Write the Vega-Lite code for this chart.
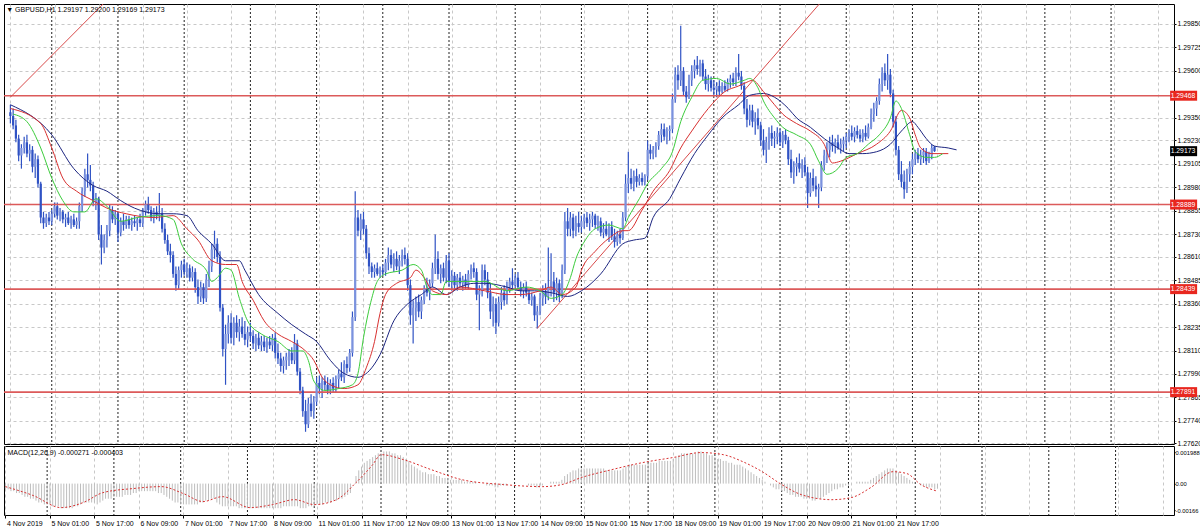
{
"$schema":"https://vega.github.io/schema/vega-lite/v6.json",
"background":"white",
"padding":{"left":2,"top":3,"right":0,"bottom":0},
"spacing":2,
"bounds":"flush",
"config":{"view":{"stroke":"#000","strokeWidth":1},"font":"Liberation Sans","axis":{"labelOverlap":false,"labelSeparation":0,"labelBound":false}},
"datasets":{
"bars":[
{"i":0,"o":1.2938,"h":1.2942,"l":1.2932,"c":1.2936,"m":-0.0003},
{"i":1,"o":1.2936,"h":1.2940,"l":1.2929,"c":1.2931,"m":-0.0003},
{"i":2,"o":1.2931,"h":1.2934,"l":1.2922,"c":1.2924,"m":-0.0004},
{"i":3,"o":1.2924,"h":1.2926,"l":1.2912,"c":1.2915,"m":-0.0004},
{"i":4,"o":1.2915,"h":1.2921,"l":1.2908,"c":1.2919,"m":-0.0005},
{"i":5,"o":1.2919,"h":1.2925,"l":1.2916,"c":1.2922,"m":-0.0005},
{"i":6,"o":1.2922,"h":1.2926,"l":1.2914,"c":1.2916,"m":-0.0006},
{"i":7,"o":1.2916,"h":1.2921,"l":1.2912,"c":1.2918,"m":-0.0007},
{"i":8,"o":1.2918,"h":1.2920,"l":1.2906,"c":1.2909,"m":-0.0007},
{"i":9,"o":1.2909,"h":1.2916,"l":1.2903,"c":1.2913,"m":-0.0008},
{"i":10,"o":1.2913,"h":1.2915,"l":1.2898,"c":1.2900,"m":-0.0008},
{"i":11,"o":1.2900,"h":1.2901,"l":1.2879,"c":1.2882,"m":-0.0009},
{"i":12,"o":1.2882,"h":1.2885,"l":1.2876,"c":1.2879,"m":-0.0010},
{"i":13,"o":1.2879,"h":1.2884,"l":1.2877,"c":1.2882,"m":-0.0010},
{"i":14,"o":1.2882,"h":1.2885,"l":1.2878,"c":1.2880,"m":-0.0011},
{"i":15,"o":1.2880,"h":1.2886,"l":1.2878,"c":1.2884,"m":-0.0011},
{"i":16,"o":1.2884,"h":1.2890,"l":1.2882,"c":1.2888,"m":-0.0011},
{"i":17,"o":1.2888,"h":1.2890,"l":1.2881,"c":1.2883,"m":-0.0012},
{"i":18,"o":1.2883,"h":1.2887,"l":1.2880,"c":1.2885,"m":-0.0012},
{"i":19,"o":1.2885,"h":1.2886,"l":1.2879,"c":1.2881,"m":-0.0012},
{"i":20,"o":1.2881,"h":1.2884,"l":1.2877,"c":1.2882,"m":-0.0013},
{"i":21,"o":1.2882,"h":1.2885,"l":1.2878,"c":1.2879,"m":-0.0013},
{"i":22,"o":1.2879,"h":1.2883,"l":1.2876,"c":1.2881,"m":-0.0013},
{"i":23,"o":1.2881,"h":1.2884,"l":1.2877,"c":1.2878,"m":-0.0013},
{"i":24,"o":1.2878,"h":1.2882,"l":1.2876,"c":1.2880,"m":-0.0013},
{"i":25,"o":1.2880,"h":1.2890,"l":1.2876,"c":1.2888,"m":-0.0012},
{"i":26,"o":1.2888,"h":1.2898,"l":1.2885,"c":1.2896,"m":-0.0012},
{"i":27,"o":1.2896,"h":1.2908,"l":1.2893,"c":1.2905,"m":-0.0011},
{"i":28,"o":1.2905,"h":1.2916,"l":1.2898,"c":1.2902,"m":-0.0010},
{"i":29,"o":1.2902,"h":1.2910,"l":1.2896,"c":1.2899,"m":-0.0010},
{"i":30,"o":1.2899,"h":1.2901,"l":1.2888,"c":1.2890,"m":-0.0010},
{"i":31,"o":1.2890,"h":1.2895,"l":1.2886,"c":1.2892,"m":-0.0010},
{"i":32,"o":1.2892,"h":1.2893,"l":1.2870,"c":1.2873,"m":-0.0010},
{"i":33,"o":1.2873,"h":1.2878,"l":1.2857,"c":1.2866,"m":-0.0011},
{"i":34,"o":1.2866,"h":1.2873,"l":1.2863,"c":1.2870,"m":-0.0010},
{"i":35,"o":1.2870,"h":1.2878,"l":1.2866,"c":1.2875,"m":-0.0009},
{"i":36,"o":1.2875,"h":1.2889,"l":1.2872,"c":1.2886,"m":-0.0008},
{"i":37,"o":1.2886,"h":1.2888,"l":1.2879,"c":1.2881,"m":-0.0008},
{"i":38,"o":1.2881,"h":1.2886,"l":1.2878,"c":1.2884,"m":-0.0008},
{"i":39,"o":1.2884,"h":1.2885,"l":1.2869,"c":1.2874,"m":-0.0007},
{"i":40,"o":1.2874,"h":1.2882,"l":1.2872,"c":1.2880,"m":-0.0007},
{"i":41,"o":1.2880,"h":1.2884,"l":1.2875,"c":1.2878,"m":-0.0007},
{"i":42,"o":1.2878,"h":1.2883,"l":1.2876,"c":1.2881,"m":-0.0007},
{"i":43,"o":1.2881,"h":1.2883,"l":1.2876,"c":1.2878,"m":-0.0006},
{"i":44,"o":1.2878,"h":1.2882,"l":1.2875,"c":1.2880,"m":-0.0006},
{"i":45,"o":1.2880,"h":1.2883,"l":1.2877,"c":1.2879,"m":-0.0006},
{"i":46,"o":1.2879,"h":1.2882,"l":1.2875,"c":1.2881,"m":-0.0005},
{"i":47,"o":1.2881,"h":1.2884,"l":1.2877,"c":1.2879,"m":-0.0005},
{"i":48,"o":1.2879,"h":1.2887,"l":1.2877,"c":1.2885,"m":-0.0004},
{"i":49,"o":1.2885,"h":1.2891,"l":1.2883,"c":1.2889,"m":-0.0004},
{"i":50,"o":1.2889,"h":1.2893,"l":1.2884,"c":1.2886,"m":-0.0004},
{"i":51,"o":1.2886,"h":1.2888,"l":1.2880,"c":1.2882,"m":-0.0004},
{"i":52,"o":1.2882,"h":1.2887,"l":1.2879,"c":1.2885,"m":-0.0004},
{"i":53,"o":1.2885,"h":1.2888,"l":1.2881,"c":1.2883,"m":-0.0004},
{"i":54,"o":1.2883,"h":1.2895,"l":1.2880,"c":1.2884,"m":-0.0004},
{"i":55,"o":1.2884,"h":1.2887,"l":1.2874,"c":1.2876,"m":-0.0005},
{"i":56,"o":1.2876,"h":1.2879,"l":1.2868,"c":1.2870,"m":-0.0005},
{"i":57,"o":1.2870,"h":1.2873,"l":1.2862,"c":1.2864,"m":-0.0006},
{"i":58,"o":1.2864,"h":1.2868,"l":1.2858,"c":1.2862,"m":-0.0007},
{"i":59,"o":1.2862,"h":1.2864,"l":1.2850,"c":1.2852,"m":-0.0008},
{"i":60,"o":1.2852,"h":1.2856,"l":1.2843,"c":1.2846,"m":-0.0009},
{"i":61,"o":1.2846,"h":1.2856,"l":1.2844,"c":1.2854,"m":-0.0010},
{"i":62,"o":1.2854,"h":1.2859,"l":1.2850,"c":1.2857,"m":-0.0010},
{"i":63,"o":1.2857,"h":1.2860,"l":1.2851,"c":1.2853,"m":-0.0011},
{"i":64,"o":1.2853,"h":1.2858,"l":1.2850,"c":1.2855,"m":-0.0011},
{"i":65,"o":1.2855,"h":1.2857,"l":1.2848,"c":1.2850,"m":-0.0011},
{"i":66,"o":1.2850,"h":1.2856,"l":1.2848,"c":1.2853,"m":-0.0011},
{"i":67,"o":1.2853,"h":1.2855,"l":1.2842,"c":1.2845,"m":-0.0011},
{"i":68,"o":1.2845,"h":1.2849,"l":1.2836,"c":1.2840,"m":-0.0011},
{"i":69,"o":1.2840,"h":1.2848,"l":1.2837,"c":1.2845,"m":-0.0011},
{"i":70,"o":1.2845,"h":1.2847,"l":1.2836,"c":1.2839,"m":-0.0010},
{"i":71,"o":1.2839,"h":1.2852,"l":1.2837,"c":1.2849,"m":-0.0010},
{"i":72,"o":1.2849,"h":1.2859,"l":1.2845,"c":1.2856,"m":-0.0009},
{"i":73,"o":1.2856,"h":1.2868,"l":1.2853,"c":1.2865,"m":-0.0009},
{"i":74,"o":1.2865,"h":1.2875,"l":1.2860,"c":1.2868,"m":-0.0008},
{"i":75,"o":1.2868,"h":1.2871,"l":1.2858,"c":1.2861,"m":-0.0008},
{"i":76,"o":1.2861,"h":1.2864,"l":1.2832,"c":1.2834,"m":-0.0010},
{"i":77,"o":1.2834,"h":1.2836,"l":1.2808,"c":1.2812,"m":-0.0011},
{"i":78,"o":1.2812,"h":1.2825,"l":1.2793,"c":1.2820,"m":-0.0012},
{"i":79,"o":1.2820,"h":1.2830,"l":1.2815,"c":1.2826,"m":-0.0012},
{"i":80,"o":1.2826,"h":1.2831,"l":1.2815,"c":1.2818,"m":-0.0012},
{"i":81,"o":1.2818,"h":1.2829,"l":1.2814,"c":1.2826,"m":-0.0012},
{"i":82,"o":1.2826,"h":1.2830,"l":1.2818,"c":1.2821,"m":-0.0012},
{"i":83,"o":1.2821,"h":1.2828,"l":1.2816,"c":1.2824,"m":-0.0012},
{"i":84,"o":1.2824,"h":1.2829,"l":1.2818,"c":1.2820,"m":-0.0013},
{"i":85,"o":1.2820,"h":1.2827,"l":1.2814,"c":1.2817,"m":-0.0013},
{"i":86,"o":1.2817,"h":1.2824,"l":1.2813,"c":1.2821,"m":-0.0013},
{"i":87,"o":1.2821,"h":1.2826,"l":1.2816,"c":1.2819,"m":-0.0013},
{"i":88,"o":1.2819,"h":1.2822,"l":1.2812,"c":1.2815,"m":-0.0013},
{"i":89,"o":1.2815,"h":1.2820,"l":1.2811,"c":1.2818,"m":-0.0013},
{"i":90,"o":1.2818,"h":1.2821,"l":1.2812,"c":1.2814,"m":-0.0013},
{"i":91,"o":1.2814,"h":1.2819,"l":1.2811,"c":1.2816,"m":-0.0013},
{"i":92,"o":1.2816,"h":1.2819,"l":1.2811,"c":1.2813,"m":-0.0013},
{"i":93,"o":1.2813,"h":1.2818,"l":1.2810,"c":1.2816,"m":-0.0013},
{"i":94,"o":1.2816,"h":1.2819,"l":1.2812,"c":1.2814,"m":-0.0013},
{"i":95,"o":1.2814,"h":1.2820,"l":1.2811,"c":1.2818,"m":-0.0013},
{"i":96,"o":1.2818,"h":1.2821,"l":1.2807,"c":1.2810,"m":-0.0013},
{"i":97,"o":1.2810,"h":1.2815,"l":1.2804,"c":1.2807,"m":-0.0013},
{"i":98,"o":1.2807,"h":1.2810,"l":1.2800,"c":1.2803,"m":-0.0013},
{"i":99,"o":1.2803,"h":1.2808,"l":1.2799,"c":1.2806,"m":-0.0013},
{"i":100,"o":1.2806,"h":1.2810,"l":1.2801,"c":1.2808,"m":-0.0012},
{"i":101,"o":1.2808,"h":1.2812,"l":1.2803,"c":1.2810,"m":-0.0012},
{"i":102,"o":1.2810,"h":1.2813,"l":1.2804,"c":1.2806,"m":-0.0012},
{"i":103,"o":1.2806,"h":1.2820,"l":1.2804,"c":1.2815,"m":-0.0012},
{"i":104,"o":1.2815,"h":1.2817,"l":1.2798,"c":1.2800,"m":-0.0012},
{"i":105,"o":1.2800,"h":1.2802,"l":1.2788,"c":1.2790,"m":-0.0012},
{"i":106,"o":1.2790,"h":1.2792,"l":1.2776,"c":1.2779,"m":-0.0013},
{"i":107,"o":1.2779,"h":1.2785,"l":1.2768,"c":1.2772,"m":-0.0013},
{"i":108,"o":1.2772,"h":1.2786,"l":1.2770,"c":1.2783,"m":-0.0013},
{"i":109,"o":1.2783,"h":1.2788,"l":1.2776,"c":1.2779,"m":-0.0012},
{"i":110,"o":1.2779,"h":1.2787,"l":1.2775,"c":1.2784,"m":-0.0012},
{"i":111,"o":1.2784,"h":1.2797,"l":1.2782,"c":1.2794,"m":-0.0012},
{"i":112,"o":1.2794,"h":1.2798,"l":1.2788,"c":1.2791,"m":-0.0011},
{"i":113,"o":1.2791,"h":1.2797,"l":1.2786,"c":1.2795,"m":-0.0011},
{"i":114,"o":1.2795,"h":1.2798,"l":1.2790,"c":1.2793,"m":-0.0011},
{"i":115,"o":1.2793,"h":1.2797,"l":1.2788,"c":1.2790,"m":-0.0010},
{"i":116,"o":1.2790,"h":1.2796,"l":1.2788,"c":1.2794,"m":-0.0010},
{"i":117,"o":1.2794,"h":1.2797,"l":1.2789,"c":1.2791,"m":-0.0010},
{"i":118,"o":1.2791,"h":1.2798,"l":1.2789,"c":1.2796,"m":-0.0009},
{"i":119,"o":1.2796,"h":1.2801,"l":1.2791,"c":1.2799,"m":-0.0009},
{"i":120,"o":1.2799,"h":1.2805,"l":1.2795,"c":1.2797,"m":-0.0008},
{"i":121,"o":1.2797,"h":1.2806,"l":1.2794,"c":1.2804,"m":-0.0008},
{"i":122,"o":1.2804,"h":1.2808,"l":1.2799,"c":1.2802,"m":-0.0007},
{"i":123,"o":1.2802,"h":1.2812,"l":1.2800,"c":1.2810,"m":-0.0006},
{"i":124,"o":1.2810,"h":1.2832,"l":1.2808,"c":1.2829,"m":-0.0005},
{"i":125,"o":1.2829,"h":1.2896,"l":1.2827,"c":1.2882,"m":0.0000},
{"i":126,"o":1.2882,"h":1.2886,"l":1.2872,"c":1.2875,"m":0.0004},
{"i":127,"o":1.2875,"h":1.2884,"l":1.2870,"c":1.2881,"m":0.0007},
{"i":128,"o":1.2881,"h":1.2885,"l":1.2873,"c":1.2876,"m":0.0009},
{"i":129,"o":1.2876,"h":1.2878,"l":1.2860,"c":1.2863,"m":0.0011},
{"i":130,"o":1.2863,"h":1.2866,"l":1.2852,"c":1.2856,"m":0.0012},
{"i":131,"o":1.2856,"h":1.2858,"l":1.2850,"c":1.2853,"m":0.0013},
{"i":132,"o":1.2853,"h":1.2857,"l":1.2850,"c":1.2855,"m":0.0014},
{"i":133,"o":1.2855,"h":1.2858,"l":1.2851,"c":1.2852,"m":0.0015},
{"i":134,"o":1.2852,"h":1.2856,"l":1.2850,"c":1.2854,"m":0.0016},
{"i":135,"o":1.2854,"h":1.2857,"l":1.2851,"c":1.2853,"m":0.0016},
{"i":136,"o":1.2853,"h":1.2860,"l":1.2851,"c":1.2858,"m":0.0017},
{"i":137,"o":1.2858,"h":1.2866,"l":1.2854,"c":1.2862,"m":0.0017},
{"i":138,"o":1.2862,"h":1.2865,"l":1.2855,"c":1.2857,"m":0.0017},
{"i":139,"o":1.2857,"h":1.2863,"l":1.2853,"c":1.2860,"m":0.0016},
{"i":140,"o":1.2860,"h":1.2864,"l":1.2854,"c":1.2856,"m":0.0016},
{"i":141,"o":1.2856,"h":1.2862,"l":1.2852,"c":1.2859,"m":0.0015},
{"i":142,"o":1.2859,"h":1.2865,"l":1.2856,"c":1.2862,"m":0.0015},
{"i":143,"o":1.2862,"h":1.2866,"l":1.2857,"c":1.2860,"m":0.0014},
{"i":144,"o":1.2860,"h":1.2863,"l":1.2843,"c":1.2846,"m":0.0013},
{"i":145,"o":1.2846,"h":1.2849,"l":1.2825,"c":1.2830,"m":0.0012},
{"i":146,"o":1.2830,"h":1.2838,"l":1.2815,"c":1.2834,"m":0.0010},
{"i":147,"o":1.2834,"h":1.2840,"l":1.2827,"c":1.2837,"m":0.0009},
{"i":148,"o":1.2837,"h":1.2841,"l":1.2829,"c":1.2832,"m":0.0008},
{"i":149,"o":1.2832,"h":1.2840,"l":1.2828,"c":1.2838,"m":0.0007},
{"i":150,"o":1.2838,"h":1.2846,"l":1.2836,"c":1.2844,"m":0.0006},
{"i":151,"o":1.2844,"h":1.2850,"l":1.2840,"c":1.2842,"m":0.0006},
{"i":152,"o":1.2842,"h":1.2849,"l":1.2838,"c":1.2847,"m":0.0005},
{"i":153,"o":1.2847,"h":1.2858,"l":1.2845,"c":1.2855,"m":0.0005},
{"i":154,"o":1.2855,"h":1.2873,"l":1.2852,"c":1.2860,"m":0.0005},
{"i":155,"o":1.2860,"h":1.2864,"l":1.2849,"c":1.2852,"m":0.0004},
{"i":156,"o":1.2852,"h":1.2857,"l":1.2847,"c":1.2855,"m":0.0004},
{"i":157,"o":1.2855,"h":1.2858,"l":1.2848,"c":1.2850,"m":0.0003},
{"i":158,"o":1.2850,"h":1.2862,"l":1.2847,"c":1.2859,"m":0.0003},
{"i":159,"o":1.2859,"h":1.2863,"l":1.2845,"c":1.2848,"m":0.0003},
{"i":160,"o":1.2848,"h":1.2854,"l":1.2843,"c":1.2851,"m":0.0002},
{"i":161,"o":1.2851,"h":1.2853,"l":1.2844,"c":1.2846,"m":0.0002},
{"i":162,"o":1.2846,"h":1.2852,"l":1.2843,"c":1.2850,"m":0.0002},
{"i":163,"o":1.2850,"h":1.2853,"l":1.2845,"c":1.2847,"m":0.0002},
{"i":164,"o":1.2847,"h":1.2851,"l":1.2843,"c":1.2849,"m":0.0002},
{"i":165,"o":1.2849,"h":1.2852,"l":1.2844,"c":1.2846,"m":0.0001},
{"i":166,"o":1.2846,"h":1.2854,"l":1.2844,"c":1.2852,"m":0.0001},
{"i":167,"o":1.2852,"h":1.2857,"l":1.2849,"c":1.2855,"m":0.0001},
{"i":168,"o":1.2855,"h":1.2858,"l":1.2850,"c":1.2853,"m":0.0001},
{"i":169,"o":1.2853,"h":1.2855,"l":1.2838,"c":1.2841,"m":0.0001},
{"i":170,"o":1.2841,"h":1.2846,"l":1.2822,"c":1.2843,"m":0.0000},
{"i":171,"o":1.2843,"h":1.2857,"l":1.2840,"c":1.2854,"m":0.0000},
{"i":172,"o":1.2854,"h":1.2857,"l":1.2846,"c":1.2849,"m":0.0000},
{"i":173,"o":1.2849,"h":1.2853,"l":1.2839,"c":1.2842,"m":-0.0001},
{"i":174,"o":1.2842,"h":1.2847,"l":1.2828,"c":1.2832,"m":-0.0001},
{"i":175,"o":1.2832,"h":1.2840,"l":1.2824,"c":1.2836,"m":-0.0001},
{"i":176,"o":1.2836,"h":1.2839,"l":1.2820,"c":1.2826,"m":-0.0002},
{"i":177,"o":1.2826,"h":1.2840,"l":1.2824,"c":1.2837,"m":-0.0002},
{"i":178,"o":1.2837,"h":1.2845,"l":1.2833,"c":1.2842,"m":-0.0001},
{"i":179,"o":1.2842,"h":1.2846,"l":1.2835,"c":1.2838,"m":-0.0001},
{"i":180,"o":1.2838,"h":1.2848,"l":1.2836,"c":1.2845,"m":-0.0001},
{"i":181,"o":1.2845,"h":1.2850,"l":1.2842,"c":1.2848,"m":0.0000},
{"i":182,"o":1.2848,"h":1.2855,"l":1.2844,"c":1.2846,"m":0.0000},
{"i":183,"o":1.2846,"h":1.2852,"l":1.2843,"c":1.2850,"m":0.0000},
{"i":184,"o":1.2850,"h":1.2853,"l":1.2843,"c":1.2845,"m":0.0000},
{"i":185,"o":1.2845,"h":1.2848,"l":1.2840,"c":1.2843,"m":0.0000},
{"i":186,"o":1.2843,"h":1.2847,"l":1.2839,"c":1.2845,"m":0.0000},
{"i":187,"o":1.2845,"h":1.2848,"l":1.2840,"c":1.2842,"m":0.0000},
{"i":188,"o":1.2842,"h":1.2844,"l":1.2836,"c":1.2838,"m":-0.0001},
{"i":189,"o":1.2838,"h":1.2842,"l":1.2835,"c":1.2840,"m":-0.0001},
{"i":190,"o":1.2840,"h":1.2841,"l":1.2827,"c":1.2830,"m":-0.0001},
{"i":191,"o":1.2830,"h":1.2835,"l":1.2823,"c":1.2832,"m":-0.0002},
{"i":192,"o":1.2832,"h":1.2842,"l":1.2830,"c":1.2839,"m":-0.0002},
{"i":193,"o":1.2839,"h":1.2846,"l":1.2835,"c":1.2843,"m":-0.0001},
{"i":194,"o":1.2843,"h":1.2847,"l":1.2836,"c":1.2840,"m":0.0000},
{"i":195,"o":1.2840,"h":1.2866,"l":1.2838,"c":1.2845,"m":0.0000},
{"i":196,"o":1.2845,"h":1.2863,"l":1.2840,"c":1.2848,"m":0.0001},
{"i":197,"o":1.2848,"h":1.2853,"l":1.2837,"c":1.2842,"m":0.0001},
{"i":198,"o":1.2842,"h":1.2850,"l":1.2838,"c":1.2847,"m":0.0001},
{"i":199,"o":1.2847,"h":1.2849,"l":1.2837,"c":1.2840,"m":0.0001},
{"i":200,"o":1.2840,"h":1.2857,"l":1.2839,"c":1.2854,"m":0.0002},
{"i":201,"o":1.2854,"h":1.2885,"l":1.2852,"c":1.2880,"m":0.0004},
{"i":202,"o":1.2880,"h":1.2887,"l":1.2872,"c":1.2876,"m":0.0005},
{"i":203,"o":1.2876,"h":1.2885,"l":1.2872,"c":1.2882,"m":0.0006},
{"i":204,"o":1.2882,"h":1.2884,"l":1.2871,"c":1.2875,"m":0.0007},
{"i":205,"o":1.2875,"h":1.2883,"l":1.2872,"c":1.2879,"m":0.0007},
{"i":206,"o":1.2879,"h":1.2885,"l":1.2874,"c":1.2877,"m":0.0008},
{"i":207,"o":1.2877,"h":1.2883,"l":1.2874,"c":1.2880,"m":0.0008},
{"i":208,"o":1.2880,"h":1.2884,"l":1.2876,"c":1.2882,"m":0.0008},
{"i":209,"o":1.2882,"h":1.2885,"l":1.2877,"c":1.2879,"m":0.0008},
{"i":210,"o":1.2879,"h":1.2884,"l":1.2875,"c":1.2881,"m":0.0008},
{"i":211,"o":1.2881,"h":1.2885,"l":1.2877,"c":1.2883,"m":0.0008},
{"i":212,"o":1.2883,"h":1.2884,"l":1.2876,"c":1.2878,"m":0.0008},
{"i":213,"o":1.2878,"h":1.2883,"l":1.2875,"c":1.2880,"m":0.0008},
{"i":214,"o":1.2880,"h":1.2882,"l":1.2872,"c":1.2874,"m":0.0008},
{"i":215,"o":1.2874,"h":1.2879,"l":1.2871,"c":1.2876,"m":0.0008},
{"i":216,"o":1.2876,"h":1.2880,"l":1.2872,"c":1.2873,"m":0.0007},
{"i":217,"o":1.2873,"h":1.2879,"l":1.2869,"c":1.2877,"m":0.0007},
{"i":218,"o":1.2877,"h":1.2880,"l":1.2870,"c":1.2872,"m":0.0007},
{"i":219,"o":1.2872,"h":1.2876,"l":1.2866,"c":1.2869,"m":0.0007},
{"i":220,"o":1.2869,"h":1.2875,"l":1.2867,"c":1.2873,"m":0.0007},
{"i":221,"o":1.2873,"h":1.2876,"l":1.2868,"c":1.2871,"m":0.0007},
{"i":222,"o":1.2871,"h":1.2885,"l":1.2870,"c":1.2882,"m":0.0008},
{"i":223,"o":1.2882,"h":1.2905,"l":1.2880,"c":1.2900,"m":0.0009},
{"i":224,"o":1.2900,"h":1.2917,"l":1.2895,"c":1.2903,"m":0.0010},
{"i":225,"o":1.2903,"h":1.2908,"l":1.2897,"c":1.2900,"m":0.0010},
{"i":226,"o":1.2900,"h":1.2907,"l":1.2896,"c":1.2904,"m":0.0010},
{"i":227,"o":1.2904,"h":1.2908,"l":1.2898,"c":1.2901,"m":0.0010},
{"i":228,"o":1.2901,"h":1.2905,"l":1.2899,"c":1.2903,"m":0.0010},
{"i":229,"o":1.2903,"h":1.2906,"l":1.2899,"c":1.2901,"m":0.0010},
{"i":230,"o":1.2901,"h":1.2905,"l":1.2899,"c":1.2904,"m":0.0010},
{"i":231,"o":1.2904,"h":1.2923,"l":1.2902,"c":1.2918,"m":0.0011},
{"i":232,"o":1.2918,"h":1.2921,"l":1.2913,"c":1.2916,"m":0.0011},
{"i":233,"o":1.2916,"h":1.2920,"l":1.2913,"c":1.2918,"m":0.0011},
{"i":234,"o":1.2918,"h":1.2922,"l":1.2914,"c":1.2920,"m":0.0011},
{"i":235,"o":1.2920,"h":1.2928,"l":1.2918,"c":1.2926,"m":0.0012},
{"i":236,"o":1.2926,"h":1.2932,"l":1.2922,"c":1.2929,"m":0.0012},
{"i":237,"o":1.2929,"h":1.2932,"l":1.2923,"c":1.2925,"m":0.0012},
{"i":238,"o":1.2925,"h":1.2930,"l":1.2921,"c":1.2928,"m":0.0012},
{"i":239,"o":1.2928,"h":1.2931,"l":1.2923,"c":1.2929,"m":0.0012},
{"i":240,"o":1.2929,"h":1.2948,"l":1.2927,"c":1.2945,"m":0.0013},
{"i":241,"o":1.2945,"h":1.2962,"l":1.2943,"c":1.2958,"m":0.0014},
{"i":242,"o":1.2958,"h":1.2963,"l":1.2950,"c":1.2955,"m":0.0015},
{"i":243,"o":1.2955,"h":1.2984,"l":1.2952,"c":1.2960,"m":0.0016},
{"i":244,"o":1.2960,"h":1.2962,"l":1.2947,"c":1.2949,"m":0.0016},
{"i":245,"o":1.2949,"h":1.2952,"l":1.2943,"c":1.2946,"m":0.0016},
{"i":246,"o":1.2946,"h":1.2958,"l":1.2945,"c":1.2955,"m":0.0016},
{"i":247,"o":1.2955,"h":1.2963,"l":1.2952,"c":1.2960,"m":0.0016},
{"i":248,"o":1.2960,"h":1.2966,"l":1.2956,"c":1.2963,"m":0.0016},
{"i":249,"o":1.2963,"h":1.2968,"l":1.2958,"c":1.2961,"m":0.0017},
{"i":250,"o":1.2961,"h":1.2966,"l":1.2957,"c":1.2964,"m":0.0017},
{"i":251,"o":1.2964,"h":1.2966,"l":1.2955,"c":1.2957,"m":0.0016},
{"i":252,"o":1.2957,"h":1.2961,"l":1.2950,"c":1.2953,"m":0.0016},
{"i":253,"o":1.2953,"h":1.2958,"l":1.2949,"c":1.2955,"m":0.0015},
{"i":254,"o":1.2955,"h":1.2957,"l":1.2949,"c":1.2951,"m":0.0015},
{"i":255,"o":1.2951,"h":1.2955,"l":1.2947,"c":1.2950,"m":0.0014},
{"i":256,"o":1.2950,"h":1.2954,"l":1.2946,"c":1.2952,"m":0.0013},
{"i":257,"o":1.2952,"h":1.2955,"l":1.2947,"c":1.2949,"m":0.0013},
{"i":258,"o":1.2949,"h":1.2954,"l":1.2948,"c":1.2952,"m":0.0012},
{"i":259,"o":1.2952,"h":1.2955,"l":1.2949,"c":1.2950,"m":0.0012},
{"i":260,"o":1.2950,"h":1.2956,"l":1.2949,"c":1.2954,"m":0.0011},
{"i":261,"o":1.2954,"h":1.2958,"l":1.2951,"c":1.2956,"m":0.0011},
{"i":262,"o":1.2956,"h":1.2959,"l":1.2952,"c":1.2954,"m":0.0010},
{"i":263,"o":1.2954,"h":1.2962,"l":1.2952,"c":1.2959,"m":0.0010},
{"i":264,"o":1.2959,"h":1.2969,"l":1.2955,"c":1.2957,"m":0.0010},
{"i":265,"o":1.2957,"h":1.2960,"l":1.2950,"c":1.2952,"m":0.0009},
{"i":266,"o":1.2952,"h":1.2954,"l":1.2937,"c":1.2940,"m":0.0008},
{"i":267,"o":1.2940,"h":1.2945,"l":1.2930,"c":1.2934,"m":0.0007},
{"i":268,"o":1.2934,"h":1.2942,"l":1.2931,"c":1.2939,"m":0.0006},
{"i":269,"o":1.2939,"h":1.2942,"l":1.2930,"c":1.2933,"m":0.0005},
{"i":270,"o":1.2933,"h":1.2938,"l":1.2926,"c":1.2935,"m":0.0004},
{"i":271,"o":1.2935,"h":1.2940,"l":1.2929,"c":1.2931,"m":0.0003},
{"i":272,"o":1.2931,"h":1.2933,"l":1.2920,"c":1.2923,"m":0.0002},
{"i":273,"o":1.2923,"h":1.2929,"l":1.2915,"c":1.2918,"m":0.0001},
{"i":274,"o":1.2918,"h":1.2925,"l":1.2911,"c":1.2922,"m":0.0000},
{"i":275,"o":1.2922,"h":1.2930,"l":1.2918,"c":1.2927,"m":-0.0001},
{"i":276,"o":1.2927,"h":1.2931,"l":1.2920,"c":1.2924,"m":-0.0002},
{"i":277,"o":1.2924,"h":1.2928,"l":1.2919,"c":1.2925,"m":-0.0003},
{"i":278,"o":1.2925,"h":1.2930,"l":1.2921,"c":1.2927,"m":-0.0003},
{"i":279,"o":1.2927,"h":1.2929,"l":1.2920,"c":1.2922,"m":-0.0004},
{"i":280,"o":1.2922,"h":1.2928,"l":1.2919,"c":1.2926,"m":-0.0004},
{"i":281,"o":1.2926,"h":1.2929,"l":1.2921,"c":1.2923,"m":-0.0005},
{"i":282,"o":1.2923,"h":1.2925,"l":1.2910,"c":1.2913,"m":-0.0006},
{"i":283,"o":1.2913,"h":1.2918,"l":1.2903,"c":1.2906,"m":-0.0006},
{"i":284,"o":1.2906,"h":1.2912,"l":1.2900,"c":1.2909,"m":-0.0007},
{"i":285,"o":1.2909,"h":1.2914,"l":1.2904,"c":1.2911,"m":-0.0007},
{"i":286,"o":1.2911,"h":1.2916,"l":1.2906,"c":1.2908,"m":-0.0007},
{"i":287,"o":1.2908,"h":1.2913,"l":1.2903,"c":1.2910,"m":-0.0008},
{"i":288,"o":1.2910,"h":1.2914,"l":1.2904,"c":1.2906,"m":-0.0008},
{"i":289,"o":1.2906,"h":1.2909,"l":1.2887,"c":1.2895,"m":-0.0008},
{"i":290,"o":1.2895,"h":1.2906,"l":1.2893,"c":1.2903,"m":-0.0009},
{"i":291,"o":1.2903,"h":1.2908,"l":1.2896,"c":1.2899,"m":-0.0009},
{"i":292,"o":1.2899,"h":1.2904,"l":1.2893,"c":1.2897,"m":-0.0008},
{"i":293,"o":1.2897,"h":1.2900,"l":1.2887,"c":1.2898,"m":-0.0008},
{"i":294,"o":1.2898,"h":1.2912,"l":1.2896,"c":1.2910,"m":-0.0007},
{"i":295,"o":1.2910,"h":1.2918,"l":1.2907,"c":1.2915,"m":-0.0006},
{"i":296,"o":1.2915,"h":1.2922,"l":1.2911,"c":1.2918,"m":-0.0005},
{"i":297,"o":1.2918,"h":1.2925,"l":1.2914,"c":1.2922,"m":-0.0004},
{"i":298,"o":1.2922,"h":1.2926,"l":1.2917,"c":1.2920,"m":-0.0003},
{"i":299,"o":1.2920,"h":1.2924,"l":1.2916,"c":1.2922,"m":-0.0003},
{"i":300,"o":1.2922,"h":1.2926,"l":1.2918,"c":1.2919,"m":-0.0002},
{"i":301,"o":1.2919,"h":1.2924,"l":1.2916,"c":1.2921,"m":-0.0002},
{"i":302,"o":1.2921,"h":1.2925,"l":1.2917,"c":1.2923,"m":-0.0001},
{"i":303,"o":1.2923,"h":1.2927,"l":1.2919,"c":1.2925,"m":-0.0001},
{"i":304,"o":1.2925,"h":1.2929,"l":1.2922,"c":1.2927,"m":0.0000},
{"i":305,"o":1.2927,"h":1.2931,"l":1.2923,"c":1.2925,"m":0.0000},
{"i":306,"o":1.2925,"h":1.2930,"l":1.2922,"c":1.2928,"m":0.0001},
{"i":307,"o":1.2928,"h":1.2931,"l":1.2924,"c":1.2926,"m":0.0001},
{"i":308,"o":1.2926,"h":1.2929,"l":1.2922,"c":1.2924,"m":0.0001},
{"i":309,"o":1.2924,"h":1.2929,"l":1.2922,"c":1.2927,"m":0.0001},
{"i":310,"o":1.2927,"h":1.2931,"l":1.2923,"c":1.2925,"m":0.0001},
{"i":311,"o":1.2925,"h":1.2932,"l":1.2924,"c":1.2930,"m":0.0002},
{"i":312,"o":1.2930,"h":1.2940,"l":1.2929,"c":1.2937,"m":0.0003},
{"i":313,"o":1.2937,"h":1.2943,"l":1.2933,"c":1.2940,"m":0.0004},
{"i":314,"o":1.2940,"h":1.2946,"l":1.2936,"c":1.2944,"m":0.0005},
{"i":315,"o":1.2944,"h":1.2956,"l":1.2942,"c":1.2953,"m":0.0006},
{"i":316,"o":1.2953,"h":1.2962,"l":1.2949,"c":1.2959,"m":0.0007},
{"i":317,"o":1.2959,"h":1.2964,"l":1.2952,"c":1.2955,"m":0.0008},
{"i":318,"o":1.2955,"h":1.2969,"l":1.2950,"c":1.2958,"m":0.0008},
{"i":319,"o":1.2958,"h":1.2961,"l":1.2946,"c":1.2948,"m":0.0008},
{"i":320,"o":1.2948,"h":1.2950,"l":1.2930,"c":1.2933,"m":0.0007},
{"i":321,"o":1.2933,"h":1.2936,"l":1.2915,"c":1.2918,"m":0.0006},
{"i":322,"o":1.2918,"h":1.2920,"l":1.2902,"c":1.2905,"m":0.0005},
{"i":323,"o":1.2905,"h":1.2912,"l":1.2898,"c":1.2901,"m":0.0004},
{"i":324,"o":1.2901,"h":1.2907,"l":1.2892,"c":1.2897,"m":0.0003},
{"i":325,"o":1.2897,"h":1.2908,"l":1.2895,"c":1.2905,"m":0.0002},
{"i":326,"o":1.2905,"h":1.2912,"l":1.2901,"c":1.2909,"m":0.0001},
{"i":327,"o":1.2909,"h":1.2916,"l":1.2905,"c":1.2913,"m":0.0000},
{"i":328,"o":1.2913,"h":1.2918,"l":1.2910,"c":1.2916,"m":0.0000},
{"i":329,"o":1.2916,"h":1.2919,"l":1.2911,"c":1.2913,"m":-0.0001},
{"i":330,"o":1.2913,"h":1.2918,"l":1.2910,"c":1.2915,"m":-0.0001},
{"i":331,"o":1.2915,"h":1.2919,"l":1.2911,"c":1.2917,"m":-0.0002},
{"i":332,"o":1.2917,"h":1.2919,"l":1.2910,"c":1.2912,"m":-0.0002},
{"i":333,"o":1.2912,"h":1.2917,"l":1.2911,"c":1.2915,"m":-0.0002},
{"i":334,"o":1.2915,"h":1.2921,"l":1.2913,"c":1.2919,"m":-0.0003},
{"i":335,"o":1.29197,"h":1.29200,"l":1.29169,"c":1.29173,"m":-0.000271}
],
"ma":[
{"s":"Jaw","i":0,"v":1.2942},{"s":"Jaw","i":15,"v":1.2926},{"s":"Jaw","i":23,"v":1.2908},{"s":"Jaw","i":30,"v":1.2899},{"s":"Jaw","i":35,"v":1.2896},{"s":"Jaw","i":40,"v":1.2891},{"s":"Jaw","i":45,"v":1.2887},{"s":"Jaw","i":54,"v":1.2884},{"s":"Jaw","i":59,"v":1.2884},{"s":"Jaw","i":64,"v":1.2883},{"s":"Jaw","i":68,"v":1.2875},{"s":"Jaw","i":73,"v":1.2868},{"s":"Jaw","i":78,"v":1.2859},{"s":"Jaw","i":83,"v":1.2859},{"s":"Jaw","i":85,"v":1.2854},{"s":"Jaw","i":90,"v":1.2841},{"s":"Jaw","i":97,"v":1.2831},{"s":"Jaw","i":102,"v":1.2825},{"s":"Jaw","i":107,"v":1.2820},{"s":"Jaw","i":111,"v":1.2816},{"s":"Jaw","i":116,"v":1.2806},{"s":"Jaw","i":121,"v":1.2799},{"s":"Jaw","i":126,"v":1.2797},{"s":"Jaw","i":128,"v":1.2798},{"s":"Jaw","i":134,"v":1.2809},{"s":"Jaw","i":139,"v":1.2827},{"s":"Jaw","i":144,"v":1.2836},{"s":"Jaw","i":149,"v":1.2841},{"s":"Jaw","i":153,"v":1.2845},{"s":"Jaw","i":158,"v":1.2841},{"s":"Jaw","i":163,"v":1.2845},{"s":"Jaw","i":168,"v":1.2847},{"s":"Jaw","i":172,"v":1.2847},{"s":"Jaw","i":180,"v":1.2845},{"s":"Jaw","i":185,"v":1.2843},{"s":"Jaw","i":190,"v":1.2843},{"s":"Jaw","i":196,"v":1.2842},{"s":"Jaw","i":202,"v":1.2840},{"s":"Jaw","i":207,"v":1.2843},{"s":"Jaw","i":214,"v":1.2852},{"s":"Jaw","i":222,"v":1.2868},{"s":"Jaw","i":226,"v":1.2870},{"s":"Jaw","i":230,"v":1.2871},{"s":"Jaw","i":233,"v":1.2882},{"s":"Jaw","i":239,"v":1.2892},{"s":"Jaw","i":243,"v":1.2903},{"s":"Jaw","i":248,"v":1.2916},{"s":"Jaw","i":253,"v":1.2926},{"s":"Jaw","i":258,"v":1.2935},{"s":"Jaw","i":264,"v":1.2942},{"s":"Jaw","i":268,"v":1.2947},{"s":"Jaw","i":273,"v":1.2948},{"s":"Jaw","i":277,"v":1.2946},{"s":"Jaw","i":282,"v":1.2940},{"s":"Jaw","i":285,"v":1.2935},{"s":"Jaw","i":290,"v":1.2930},{"s":"Jaw","i":295,"v":1.2924},{"s":"Jaw","i":300,"v":1.2919},{"s":"Jaw","i":304,"v":1.2916},{"s":"Jaw","i":309,"v":1.2916},{"s":"Jaw","i":314,"v":1.2917},{"s":"Jaw","i":319,"v":1.2921},{"s":"Jaw","i":323,"v":1.2928},{"s":"Jaw","i":327,"v":1.2933},{"s":"Jaw","i":329,"v":1.2930},{"s":"Jaw","i":332,"v":1.2924},{"s":"Jaw","i":335,"v":1.2920},{"s":"Jaw","i":340,"v":1.2919},{"s":"Jaw","i":343,"v":1.2918},
{"s":"Teeth","i":0,"v":1.2940},{"s":"Teeth","i":11,"v":1.2932},{"s":"Teeth","i":15,"v":1.2919},{"s":"Teeth","i":19,"v":1.2903},{"s":"Teeth","i":24,"v":1.2896},{"s":"Teeth","i":30,"v":1.2891},{"s":"Teeth","i":35,"v":1.2887},{"s":"Teeth","i":42,"v":1.2884},{"s":"Teeth","i":52,"v":1.2882},{"s":"Teeth","i":59,"v":1.2883},{"s":"Teeth","i":64,"v":1.2876},{"s":"Teeth","i":68,"v":1.2870},{"s":"Teeth","i":73,"v":1.2859},{"s":"Teeth","i":78,"v":1.2857},{"s":"Teeth","i":82,"v":1.2857},{"s":"Teeth","i":84,"v":1.2848},{"s":"Teeth","i":88,"v":1.2838},{"s":"Teeth","i":92,"v":1.2827},{"s":"Teeth","i":97,"v":1.2820},{"s":"Teeth","i":102,"v":1.2816},{"s":"Teeth","i":107,"v":1.2811},{"s":"Teeth","i":110,"v":1.2806},{"s":"Teeth","i":113,"v":1.2797},{"s":"Teeth","i":116,"v":1.2793},{"s":"Teeth","i":121,"v":1.2791},{"s":"Teeth","i":126,"v":1.2793},{"s":"Teeth","i":129,"v":1.2802},{"s":"Teeth","i":132,"v":1.2816},{"s":"Teeth","i":134,"v":1.2831},{"s":"Teeth","i":136,"v":1.2841},{"s":"Teeth","i":140,"v":1.2847},{"s":"Teeth","i":145,"v":1.2850},{"s":"Teeth","i":147,"v":1.2854},{"s":"Teeth","i":150,"v":1.2850},{"s":"Teeth","i":153,"v":1.2843},{"s":"Teeth","i":158,"v":1.2841},{"s":"Teeth","i":163,"v":1.2845},{"s":"Teeth","i":172,"v":1.2843},{"s":"Teeth","i":180,"v":1.2841},{"s":"Teeth","i":185,"v":1.2841},{"s":"Teeth","i":192,"v":1.2843},{"s":"Teeth","i":196,"v":1.2845},{"s":"Teeth","i":200,"v":1.2841},{"s":"Teeth","i":205,"v":1.2845},{"s":"Teeth","i":207,"v":1.2854},{"s":"Teeth","i":212,"v":1.2864},{"s":"Teeth","i":217,"v":1.2871},{"s":"Teeth","i":222,"v":1.2875},{"s":"Teeth","i":224,"v":1.2875},{"s":"Teeth","i":229,"v":1.2886},{"s":"Teeth","i":233,"v":1.2896},{"s":"Teeth","i":239,"v":1.2907},{"s":"Teeth","i":243,"v":1.2919},{"s":"Teeth","i":247,"v":1.2928},{"s":"Teeth","i":253,"v":1.2940},{"s":"Teeth","i":259,"v":1.2949},{"s":"Teeth","i":264,"v":1.2952},{"s":"Teeth","i":267,"v":1.2954},{"s":"Teeth","i":269,"v":1.2955},{"s":"Teeth","i":273,"v":1.2949},{"s":"Teeth","i":277,"v":1.2942},{"s":"Teeth","i":280,"v":1.2937},{"s":"Teeth","i":285,"v":1.2932},{"s":"Teeth","i":290,"v":1.2928},{"s":"Teeth","i":295,"v":1.2921},{"s":"Teeth","i":298,"v":1.2911},{"s":"Teeth","i":301,"v":1.2912},{"s":"Teeth","i":307,"v":1.2916},{"s":"Teeth","i":314,"v":1.2921},{"s":"Teeth","i":319,"v":1.2928},{"s":"Teeth","i":323,"v":1.2939},{"s":"Teeth","i":326,"v":1.2935},{"s":"Teeth","i":328,"v":1.2926},{"s":"Teeth","i":330,"v":1.2919},{"s":"Teeth","i":334,"v":1.2916},{"s":"Teeth","i":338,"v":1.2916},{"s":"Teeth","i":340,"v":1.2916},
{"s":"Lips","i":1,"v":1.2937},{"s":"Lips","i":6,"v":1.2933},{"s":"Lips","i":11,"v":1.2919},{"s":"Lips","i":15,"v":1.2903},{"s":"Lips","i":19,"v":1.2891},{"s":"Lips","i":23,"v":1.2885},{"s":"Lips","i":27,"v":1.2885},{"s":"Lips","i":31,"v":1.2892},{"s":"Lips","i":35,"v":1.2888},{"s":"Lips","i":40,"v":1.2880},{"s":"Lips","i":46,"v":1.2882},{"s":"Lips","i":54,"v":1.2883},{"s":"Lips","i":59,"v":1.2881},{"s":"Lips","i":62,"v":1.2868},{"s":"Lips","i":66,"v":1.2860},{"s":"Lips","i":71,"v":1.2854},{"s":"Lips","i":73,"v":1.2848},{"s":"Lips","i":75,"v":1.2850},{"s":"Lips","i":78,"v":1.2855},{"s":"Lips","i":80,"v":1.2854},{"s":"Lips","i":83,"v":1.2839},{"s":"Lips","i":86,"v":1.2827},{"s":"Lips","i":91,"v":1.2820},{"s":"Lips","i":97,"v":1.2816},{"s":"Lips","i":102,"v":1.2811},{"s":"Lips","i":106,"v":1.2811},{"s":"Lips","i":108,"v":1.2806},{"s":"Lips","i":110,"v":1.2795},{"s":"Lips","i":114,"v":1.2790},{"s":"Lips","i":119,"v":1.2791},{"s":"Lips","i":124,"v":1.2793},{"s":"Lips","i":126,"v":1.2799},{"s":"Lips","i":128,"v":1.2818},{"s":"Lips","i":131,"v":1.2839},{"s":"Lips","i":133,"v":1.2848},{"s":"Lips","i":136,"v":1.2852},{"s":"Lips","i":142,"v":1.2854},{"s":"Lips","i":146,"v":1.2857},{"s":"Lips","i":149,"v":1.2854},{"s":"Lips","i":151,"v":1.2845},{"s":"Lips","i":153,"v":1.2841},{"s":"Lips","i":156,"v":1.2841},{"s":"Lips","i":158,"v":1.2848},{"s":"Lips","i":163,"v":1.2848},{"s":"Lips","i":172,"v":1.2848},{"s":"Lips","i":180,"v":1.2843},{"s":"Lips","i":187,"v":1.2845},{"s":"Lips","i":192,"v":1.2843},{"s":"Lips","i":196,"v":1.2839},{"s":"Lips","i":200,"v":1.2841},{"s":"Lips","i":203,"v":1.2850},{"s":"Lips","i":205,"v":1.2860},{"s":"Lips","i":208,"v":1.2869},{"s":"Lips","i":212,"v":1.2876},{"s":"Lips","i":217,"v":1.2878},{"s":"Lips","i":222,"v":1.2876},{"s":"Lips","i":224,"v":1.2882},{"s":"Lips","i":228,"v":1.2892},{"s":"Lips","i":231,"v":1.2900},{"s":"Lips","i":236,"v":1.2908},{"s":"Lips","i":240,"v":1.2917},{"s":"Lips","i":243,"v":1.2933},{"s":"Lips","i":247,"v":1.2946},{"s":"Lips","i":251,"v":1.2955},{"s":"Lips","i":256,"v":1.2956},{"s":"Lips","i":261,"v":1.2953},{"s":"Lips","i":266,"v":1.2955},{"s":"Lips","i":268,"v":1.2956},{"s":"Lips","i":271,"v":1.2951},{"s":"Lips","i":273,"v":1.2944},{"s":"Lips","i":277,"v":1.2935},{"s":"Lips","i":280,"v":1.2930},{"s":"Lips","i":285,"v":1.2926},{"s":"Lips","i":290,"v":1.2921},{"s":"Lips","i":293,"v":1.2912},{"s":"Lips","i":296,"v":1.2905},{"s":"Lips","i":300,"v":1.2908},{"s":"Lips","i":303,"v":1.2914},{"s":"Lips","i":307,"v":1.2916},{"s":"Lips","i":311,"v":1.2921},{"s":"Lips","i":315,"v":1.2926},{"s":"Lips","i":319,"v":1.2935},{"s":"Lips","i":321,"v":1.2944},{"s":"Lips","i":323,"v":1.2940},{"s":"Lips","i":326,"v":1.2926},{"s":"Lips","i":328,"v":1.2917},{"s":"Lips","i":332,"v":1.2914},{"s":"Lips","i":335,"v":1.2914},{"s":"Lips","i":338,"v":1.2916}
],
"sig":[
{"i":0,"v":-0.00016},{"i":10,"v":-0.00063},{"i":20,"v":-0.00127},{"i":28,"v":-0.00100},{"i":35,"v":-0.00048},{"i":46,"v":-0.00026},{"i":56,"v":-0.00016},{"i":64,"v":-0.00053},{"i":71,"v":-0.00095},{"i":78,"v":-0.00069},{"i":88,"v":-0.00127},{"i":96,"v":-0.00111},{"i":104,"v":-0.00085},{"i":111,"v":-0.00111},{"i":119,"v":-0.00085},{"i":126,"v":0.00005},{"i":132,"v":0.00100},{"i":135,"v":0.00153},{"i":143,"v":0.00127},{"i":153,"v":0.00074},{"i":164,"v":0.00021},{"i":179,"v":-0.00005},{"i":193,"v":-0.00016},{"i":200,"v":-0.00005},{"i":207,"v":0.00032},{"i":218,"v":0.00074},{"i":229,"v":0.00111},{"i":240,"v":0.00138},{"i":250,"v":0.00164},{"i":258,"v":0.00153},{"i":265,"v":0.00116},{"i":272,"v":0.00063},{"i":279,"v":-0.00005},{"i":286,"v":-0.00058},{"i":297,"v":-0.00085},{"i":304,"v":-0.00074},{"i":311,"v":-0.00021},{"i":319,"v":0.00063},{"i":324,"v":0.00053},{"i":329,"v":-0.00005},{"i":335,"v":-0.000403}
],
"trend":[
{"g":"t1","i":0,"p":1.2946},{"g":"t1","i":40,"p":1.3005},
{"g":"t2","i":191,"p":1.2823},{"g":"t2","i":300,"p":1.3007}
],
"hlines":[{"p":1.29468},{"p":1.28889},{"p":1.28439},{"p":1.27891}],
"plabels":[
{"p":1.29468,"t":"1.29468","k":"line"},{"p":1.28889,"t":"1.28889","k":"line"},{"p":1.28439,"t":"1.28439","k":"line"},{"p":1.27891,"t":"1.27891","k":"line"},{"p":1.29173,"t":"1.29173","k":"bid"}
],
"days":[
{"i":15,"d":"5 Nov"},{"i":39,"d":"6 Nov"},{"i":63,"d":"7 Nov"},{"i":87,"d":"8 Nov"},{"i":111,"d":"11 Nov"},{"i":135,"d":"12 Nov"},{"i":159,"d":"13 Nov"},{"i":183,"d":"14 Nov"},{"i":207,"d":"15 Nov"},{"i":231,"d":"18 Nov"},{"i":255,"d":"19 Nov"},{"i":279,"d":"20 Nov"},{"i":303,"d":"21 Nov"},{"i":327,"d":"22 Nov"},{"i":351,"d":"25 Nov"},{"i":375,"d":"26 Nov"},{"i":399,"d":"27 Nov"}
]
},
"vconcat":[
{
"width":1170,"height":440,
"title":{"text":"▼ GBPUSD,H1  1.29197 1.29200 1.29169 1.29173","anchor":"start","offset":-9,"dx":3,"fontSize":7,"fontWeight":"normal","font":"Liberation Sans","color":"#000"},
"layer":[
{"data":{"name":"days"},"mark":{"type":"rule","strokeDash":[2,2],"color":"#222","strokeWidth":1},
 "encoding":{"x":{"field":"i","type":"quantitative","title":null,"scale":{"domain":[-0.5,420],"nice":false,"zero":false},
   "axis":{"values":[0,8,16,24,32,40,48,56,64,72,80,88,96,104,112,120,128,136,144,152,160,168,176,184,192,200,208,216,224,232,240,248,256,264,272,280,288,296,304,312,320,328,336,344,352,360,368,376,384,392,400,408,416],"grid":true,"gridDash":[3,3],"gridColor":"#c8c8c8","labels":false,"ticks":false,"domain":false,"title":null}}}},
{"data":{"name":"bars"},"mark":{"type":"rule","color":"#2f52c4","strokeWidth":1.2,"clip":true},
 "encoding":{"x":{"field":"i","type":"quantitative","title":null,"scale":{"domain":[-0.5,420],"nice":false,"zero":false}},
  "y":{"field":"l","type":"quantitative","title":null,"scale":{"domain":[1.27615,1.29956],"nice":false,"zero":false},
   "axis":{"orient":"right","values":[1.2985,1.29725,1.296,1.2935,1.2923,1.29105,1.2898,1.28855,1.2873,1.2861,1.28485,1.2836,1.28235,1.2811,1.2799,1.27865,1.2774,1.2762],"format":".5f","grid":true,"gridDash":[3,3],"gridColor":"#c8c8c8","domain":false,"tickSize":2,"tickColor":"#000","labelPadding":1,"labelOverlap":false,"labelSeparation":0,"labelBound":false,"labelFontSize":6.8,"labelFont":"Liberation Sans","labelColor":"#000","title":null}},
  "y2":{"field":"h"}}},
{"mark":{"type":"rule","color":"#c0c0c0","strokeWidth":1},
 "encoding":{"y":{"datum":1.29173,"type":"quantitative","title":null,"scale":{"domain":[1.27615,1.29956],"nice":false,"zero":false},
   "axis":{"orient":"right","values":[1.2985,1.29725,1.296,1.2935,1.2923,1.29105,1.2898,1.28855,1.2873,1.2861,1.28485,1.2836,1.28235,1.2811,1.2799,1.27865,1.2774,1.2762],"format":".5f","grid":true,"gridDash":[3,3],"gridColor":"#c8c8c8","domain":false,"tickSize":2,"tickColor":"#000","labelPadding":1,"labelOverlap":false,"labelSeparation":0,"labelBound":false,"labelFontSize":6.8,"labelFont":"Liberation Sans","labelColor":"#000","title":null}}}},
{"data":{"name":"hlines"},"mark":{"type":"rule","color":"#dc5a5a","strokeWidth":1.6},
 "encoding":{"y":{"field":"p","type":"quantitative","title":null,"scale":{"domain":[1.27615,1.29956],"nice":false,"zero":false},
   "axis":{"orient":"right","values":[1.2985,1.29725,1.296,1.2935,1.2923,1.29105,1.2898,1.28855,1.2873,1.2861,1.28485,1.2836,1.28235,1.2811,1.2799,1.27865,1.2774,1.2762],"format":".5f","grid":true,"gridDash":[3,3],"gridColor":"#c8c8c8","domain":false,"tickSize":2,"tickColor":"#000","labelPadding":1,"labelOverlap":false,"labelSeparation":0,"labelBound":false,"labelFontSize":6.8,"labelFont":"Liberation Sans","labelColor":"#000","title":null}}}},
{"data":{"name":"trend"},"mark":{"type":"line","color":"#d84a4a","strokeWidth":1,"clip":true},
 "encoding":{"x":{"field":"i","type":"quantitative","title":null,"scale":{"domain":[-0.5,420],"nice":false,"zero":false}},
  "y":{"field":"p","type":"quantitative","title":null,"scale":{"domain":[1.27615,1.29956],"nice":false,"zero":false},
   "axis":{"orient":"right","values":[1.2985,1.29725,1.296,1.2935,1.2923,1.29105,1.2898,1.28855,1.2873,1.2861,1.28485,1.2836,1.28235,1.2811,1.2799,1.27865,1.2774,1.2762],"format":".5f","grid":true,"gridDash":[3,3],"gridColor":"#c8c8c8","domain":false,"tickSize":2,"tickColor":"#000","labelPadding":1,"labelOverlap":false,"labelSeparation":0,"labelBound":false,"labelFontSize":6.8,"labelFont":"Liberation Sans","labelColor":"#000","title":null}},
  "detail":{"field":"g"}}},
{"data":{"name":"bars"},"mark":{"type":"bar","width":2.2,"clip":true},
 "encoding":{"x":{"field":"i","type":"quantitative","title":null,"scale":{"domain":[-0.5,420],"nice":false,"zero":false}},
  "y":{"field":"o","type":"quantitative","title":null,"scale":{"domain":[1.27615,1.29956],"nice":false,"zero":false},
   "axis":{"orient":"right","values":[1.2985,1.29725,1.296,1.2935,1.2923,1.29105,1.2898,1.28855,1.2873,1.2861,1.28485,1.2836,1.28235,1.2811,1.2799,1.27865,1.2774,1.2762],"format":".5f","grid":true,"gridDash":[3,3],"gridColor":"#c8c8c8","domain":false,"tickSize":2,"tickColor":"#000","labelPadding":1,"labelOverlap":false,"labelSeparation":0,"labelBound":false,"labelFontSize":6.8,"labelFont":"Liberation Sans","labelColor":"#000","title":null}},
  "y2":{"field":"c"},
  "color":{"condition":{"test":"datum.c >= datum.o","value":"#7b92de"},"value":"#2f52c4"}}},
{"data":{"name":"ma"},"mark":{"type":"line","strokeWidth":1,"interpolate":"monotone","clip":true},
 "encoding":{"x":{"field":"i","type":"quantitative","title":null,"scale":{"domain":[-0.5,420],"nice":false,"zero":false}},
  "y":{"field":"v","type":"quantitative","title":null,"scale":{"domain":[1.27615,1.29956],"nice":false,"zero":false},
   "axis":{"orient":"right","values":[1.2985,1.29725,1.296,1.2935,1.2923,1.29105,1.2898,1.28855,1.2873,1.2861,1.28485,1.2836,1.28235,1.2811,1.2799,1.27865,1.2774,1.2762],"format":".5f","grid":true,"gridDash":[3,3],"gridColor":"#c8c8c8","domain":false,"tickSize":2,"tickColor":"#000","labelPadding":1,"labelOverlap":false,"labelSeparation":0,"labelBound":false,"labelFontSize":6.8,"labelFont":"Liberation Sans","labelColor":"#000","title":null}},
  "color":{"field":"s","type":"nominal","scale":{"domain":["Jaw","Teeth","Lips"],"range":["#1c2580","#d83030","#3ccc3c"]},"legend":null}}},
{"data":{"name":"plabels"},"mark":{"type":"tick","orient":"horizontal","size":27,"thickness":10,"clip":false,"opacity":1},
 "encoding":{"x":{"datum":425.3,"type":"quantitative","title":null,"scale":{"domain":[-0.5,420],"nice":false,"zero":false}},
  "y":{"field":"p","type":"quantitative","title":null,"scale":{"domain":[1.27615,1.29956],"nice":false,"zero":false},
   "axis":{"orient":"right","values":[1.2985,1.29725,1.296,1.2935,1.2923,1.29105,1.2898,1.28855,1.2873,1.2861,1.28485,1.2836,1.28235,1.2811,1.2799,1.27865,1.2774,1.2762],"format":".5f","grid":true,"gridDash":[3,3],"gridColor":"#c8c8c8","domain":false,"tickSize":2,"tickColor":"#000","labelPadding":1,"labelOverlap":false,"labelSeparation":0,"labelBound":false,"labelFontSize":6.8,"labelFont":"Liberation Sans","labelColor":"#000","title":null}},
  "color":{"condition":{"test":"datum.k == 'bid'","value":"#000"},"value":"#e8271f"}}},
{"data":{"name":"plabels"},"mark":{"type":"text","align":"left","baseline":"middle","fontSize":6.8,"font":"Liberation Sans","color":"#fff","clip":false},
 "encoding":{"x":{"datum":420.6,"type":"quantitative","title":null,"scale":{"domain":[-0.5,420],"nice":false,"zero":false}},
  "y":{"field":"p","type":"quantitative","title":null,"scale":{"domain":[1.27615,1.29956],"nice":false,"zero":false},
   "axis":{"orient":"right","values":[1.2985,1.29725,1.296,1.2935,1.2923,1.29105,1.2898,1.28855,1.2873,1.2861,1.28485,1.2836,1.28235,1.2811,1.2799,1.27865,1.2774,1.2762],"format":".5f","grid":true,"gridDash":[3,3],"gridColor":"#c8c8c8","domain":false,"tickSize":2,"tickColor":"#000","labelPadding":1,"labelOverlap":false,"labelSeparation":0,"labelBound":false,"labelFontSize":6.8,"labelFont":"Liberation Sans","labelColor":"#000","title":null}},
  "text":{"field":"t"}}}
]
},
{
"width":1170,"height":69,
"title":{"text":"MACD(12,26,9) -0.000271 -0.000403","anchor":"start","offset":-10,"dx":4,"fontSize":7,"fontWeight":"normal","font":"Liberation Sans","color":"#000"},
"layer":[
{"data":{"name":"days"},"mark":{"type":"rule","strokeDash":[2,2],"color":"#222","strokeWidth":1},
 "encoding":{"x":{"field":"i","type":"quantitative","title":null,"scale":{"domain":[-0.5,420],"nice":false,"zero":false},
   "axis":{"values":[0,8,16,24,32,40,48,56,64,72,80,88,96,104,112,120,128,136,144,152,160,168,176,184,192,200,208,216,224,232,240,248,256,264,272,280,288,296,304,312,320,328,336,344,352,360,368,376,384,392,400,408,416],"grid":true,"gridDash":[3,3],"gridColor":"#c8c8c8","domain":false,"tickSize":3,"tickColor":"#000",
   "tickOpacity":{"condition":{"test":"datum.value % 16 == 0 && datum.value <= 320","value":1},"value":0},
   "labelExpr":"datum.value % 16 == 0 && datum.value <= 320 ? ['4 Nov 2019','5 Nov 01:00','5 Nov 17:00','6 Nov 09:00','7 Nov 01:00','7 Nov 17:00','8 Nov 09:00','11 Nov 01:00','11 Nov 17:00','12 Nov 09:00','13 Nov 01:00','13 Nov 17:00','14 Nov 09:00','15 Nov 01:00','15 Nov 17:00','18 Nov 09:00','19 Nov 01:00','19 Nov 17:00','20 Nov 09:00','21 Nov 01:00','21 Nov 17:00'][datum.value/16] : ''",
   "labelAlign":"left","labelBaseline":"top","labelPadding":1,"labelOffset":1,"labelOverlap":false,"labelBound":false,"labelFlush":false,"labelFontSize":7,"labelFont":"Liberation Sans","labelColor":"#000","title":null}}}},
{"data":{"name":"bars"},"mark":{"type":"rule","color":"#bdbdbd","strokeWidth":1},
 "encoding":{"x":{"field":"i","type":"quantitative","title":null,"scale":{"domain":[-0.5,420],"nice":false,"zero":false}},
  "y":{"field":"m","type":"quantitative","title":null,"scale":{"domain":[-0.00166,0.001988],"nice":false,"zero":false},
   "axis":{"orient":"right","values":[0.00167,0,-0.0014],"labelExpr":"datum.value > 0.001 ? '0.001988' : (datum.value < -0.001 ? '-0.00166' : '0.00')","grid":false,"domain":false,"tickSize":1,"tickColor":"#000","labelPadding":0,"labelOverlap":false,"labelBound":false,"labelFontSize":5.8,"labelFont":"Liberation Sans","labelColor":"#000","title":null}},
  "y2":{"datum":0}}},
{"data":{"name":"sig"},"mark":{"type":"line","color":"#d83030","strokeWidth":1,"strokeDash":[2,2],"interpolate":"monotone"},
 "encoding":{"x":{"field":"i","type":"quantitative","title":null,"scale":{"domain":[-0.5,420],"nice":false,"zero":false}},
  "y":{"field":"v","type":"quantitative","title":null,"scale":{"domain":[-0.00166,0.001988],"nice":false,"zero":false},
   "axis":{"orient":"right","values":[0.00167,0,-0.0014],"labelExpr":"datum.value > 0.001 ? '0.001988' : (datum.value < -0.001 ? '-0.00166' : '0.00')","grid":false,"domain":false,"tickSize":1,"tickColor":"#000","labelPadding":0,"labelOverlap":false,"labelBound":false,"labelFontSize":5.8,"labelFont":"Liberation Sans","labelColor":"#000","title":null}}}}
]
}
]
}
